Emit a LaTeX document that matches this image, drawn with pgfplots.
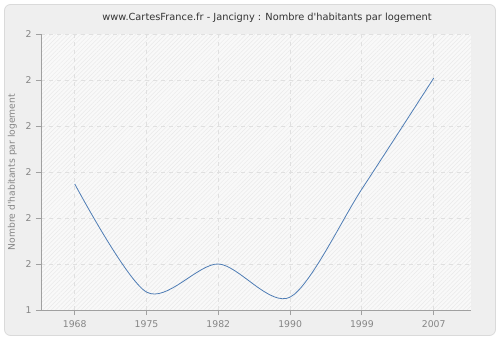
\documentclass[border=0pt]{standalone}
\usepackage{pgfplots}
\pgfplotsset{compat=1.18}
\usepackage{fontspec}
\setmainfont{DejaVu Sans}[Ligatures=TeXOff]
\usetikzlibrary{patterns.meta}
\definecolor{panel}{HTML}{EFEFEF}
\definecolor{panelborder}{HTML}{DADADA}
\definecolor{plotbg}{HTML}{F9F9F9}
\definecolor{hatch}{HTML}{EAEAEA}
\definecolor{gridc}{HTML}{E0E0E0}
\definecolor{axisc}{HTML}{A0A0A0}
\definecolor{tickc}{HTML}{858585}
\definecolor{titlec}{HTML}{333333}
\definecolor{linec}{HTML}{4F7DB5}
\begin{document}
\begin{tikzpicture}
\path (0bp,0bp) rectangle (500bp,340bp);
\draw[draw=panelborder, fill=panel, rounded corners=6bp, line width=0.8bp] (4.5bp,4.5bp) rectangle (495.5bp,335.5bp);
\begin{axis}[
  at={(41bp,30bp)}, anchor=south west,
  scale only axis, width=430bp, height=276bp,
  xmin=-0.47, xmax=5.52, ymin=1.4, ymax=2.0,
  xtick={0,1,2,3,4,5},
  xticklabels={1968,1975,1982,1990,1999,2007},
  ytick={1.4,1.5,1.6,1.7,1.8,1.9,2.0},
  yticklabels={1,2,2,2,2,2,2},
  axis lines*=left,
  axis line style={-, draw=axisc, line width=0.8bp},
  tick align=outside,
  major tick length=5bp,
  tick style={draw=axisc, line width=0.8bp},
  grid=major,
  major grid style={draw=gridc, dash pattern=on 4bp off 4bp, line width=0.8bp},
  tick label style={font=\fontsize{9.3bp}{11bp}\selectfont, text=tickc},
  xticklabel style={yshift=-2bp},
  yticklabel style={xshift=-1bp},
  ylabel={Nombre d'habitants par logement},
  ylabel style={font=\fontsize{9.2bp}{11bp}\selectfont, text=tickc, yshift=2bp},
  axis background/.style={preaction={fill=plotbg}, pattern={Lines[angle=45,distance=3bp,line width=0.5bp]}, pattern color=hatch},
]
\addplot[color=linec, line width=0.8bp, smooth, tension=0.5] coordinates {
  (0,1.674) (1,1.439) (2,1.500) (3,1.428) (4,1.663) (5,1.904)
};
\end{axis}
\node[font=\fontsize{9.8bp}{12bp}\selectfont, text=titlec] at (267bp,322bp) {www.CartesFrance.fr - Jancigny : Nombre d'habitants par logement};
\end{tikzpicture}
\end{document}
